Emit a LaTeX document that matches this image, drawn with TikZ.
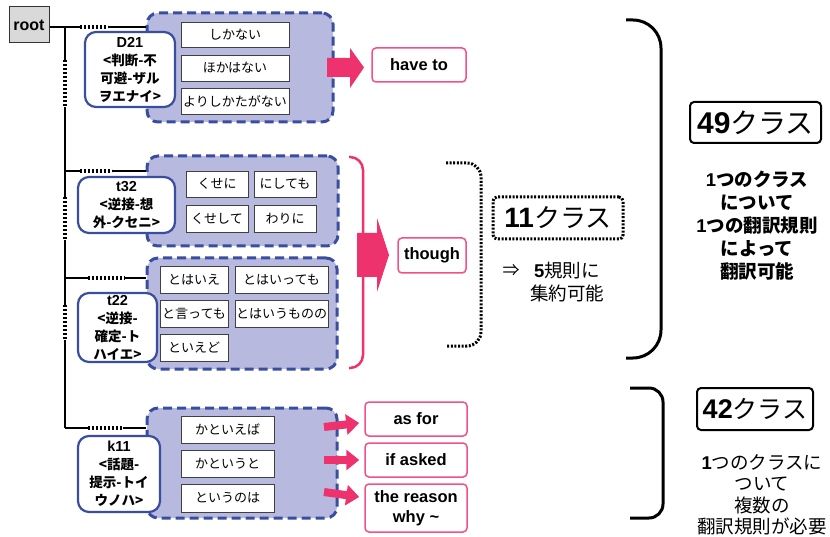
\documentclass[tikz,border=0pt]{standalone}
\usepackage{fontspec}
\setmainfont{Noto Sans CJK JP}
\newfontfamily\lat{Liberation Sans}
\usetikzlibrary{arrows.meta}
\definecolor{grpfill}{RGB}{183,186,222}
\definecolor{grpblue}{RGB}{58,78,160}
\definecolor{pinkc}{RGB}{238,50,110}
\definecolor{rootgray}{RGB}{217,217,217}
\begin{document}
\begin{tikzpicture}[x=1pt,y=-1pt,
  area/.style n args={4}{minimum width={(#3-#1)*1pt}, minimum height={(#4-#2)*1pt}, at={({(#1+#3)/2},{(#2+#4)/2})}},
  rootbox/.style={draw=black!80, fill=rootgray, line width=1pt, inner sep=0pt, font=\lat\bfseries\fontsize{16}{18}\selectfont},
  grp/.style={draw=grpblue, fill=grpfill, line width=3pt, dash pattern=on 9pt off 5pt, rounded corners=11pt, inner sep=0pt},
  lbl/.style={draw=grpblue, fill=white, line width=2.2pt, rounded corners=11pt, inner sep=0pt, align=center, font=\fontsize{13.5}{18}\selectfont\bfseries},
  item/.style={draw=black!75, fill=white, line width=0.8pt, inner sep=0pt, font=\fontsize{13}{15}\selectfont},
  pbox/.style={draw=pinkc!85, fill=white, line width=1.5pt, rounded corners=4pt, inner sep=0pt, align=center, font=\lat\bfseries\fontsize{16.5}{20}\selectfont},
  solidl/.style={line width=2.5pt, black},
  dotl/.style={line width=3.2pt, black, dash pattern=on 2pt off 2pt},
  sarr/.style={draw=pinkc, line width=8pt, -{Triangle[length=13pt,width=20pt]}},
  bigarr/.style={fill=pinkc, draw=none},
  bracket/.style={line width=3pt, black},
  dotbr/.style={line width=3pt, black, dash pattern=on 2pt off 1.6pt},
  clsbox/.style={draw=black, line width=2pt, rounded corners=4pt, inner sep=0pt},
  note/.style={align=center, inner sep=0pt}
]
\useasboundingbox (0,0) rectangle (830,537);

% trunk coordinates
\coordinate (b1) at (65,27);
\coordinate (b2) at (65,171);
\coordinate (b3) at (65,278);
\coordinate (b4) at (65,428);

% root
\node[rootbox, area={9}{7}{49}{43}] (root) {root};

% groups
\node[grp, area={147}{13}{333}{122}] (g1) {};
\node[grp, area={147}{156}{338}{246}] (g2) {};
\node[grp, area={147}{258}{337}{369}] (g3) {};
\node[grp, area={147}{408}{337}{518}] (g4) {};

% tree lines
\draw[solidl] (root.east |- b1) -- (80,27);
\draw[dotl] (80,27) -- (108,27);
\draw[solidl] (108,27) -- (g1.west |- b1);
\draw[solidl] (b1) -- (65,60);
\draw[dotl] (65,60) -- (65,107);
\draw[solidl] (65,107) -- (65,197);
\draw[dotl] (65,197) -- (65,240);
\draw[solidl] (65,240) -- (65,305);
\draw[dotl] (65,305) -- (65,340);
\draw[solidl] (65,340) -- (b4);
\draw[solidl] (b2) -- (80,171);
\draw[dotl] (80,171) -- (112,171);
\draw[solidl] (112,171) -- (g2.west |- b2);
\draw[solidl] (b3) -- (88,278);
\draw[dotl] (88,278) -- (125,278);
\draw[solidl] (125,278) -- (g3.west |- b3);
\draw[solidl] (b4) -- (88,428);
\draw[dotl] (88,428) -- (123,428);
\draw[solidl] (123,428) -- (g4.west |- b4);

% items group 1
\node[item, area={181}{22}{289}{47}] (i11) {しかない};
\node[item, area={181}{55}{289}{81}] (i12) {ほかはない};
\node[item, area={181}{88}{289}{114}] (i13) {よりしかたがない};
% items group 2
\node[item, area={186}{171}{248}{197}] (i21) {くせに};
\node[item, area={254}{171}{316}{197}] (i22) {にしても};
\node[item, area={186}{205}{248}{232}] (i23) {くせして};
\node[item, area={254}{205}{316}{232}] (i24) {わりに};
% items group 3
\node[item, area={160}{266}{228}{293}] (i31) {とはいえ};
\node[item, area={235}{266}{328}{293}] (i32) {とはいっても};
\node[item, area={160}{300}{228}{327}] (i33) {と言っても};
\node[item, area={235}{300}{328}{327}] (i34) {とはいうものの};
\node[item, area={160}{334}{228}{361}] (i35) {といえど};
% items group 4
\node[item, area={181}{416}{274}{443}] (i41) {かといえば};
\node[item, area={181}{450}{274}{477}] (i42) {かというと};
\node[item, area={181}{484}{274}{512}] (i43) {というのは};

% labels
\node[lbl, area={85}{32}{175}{107}] (l1) {{\lat\fontsize{14.5}{18}\selectfont D21}\\<判断-不\\可避-ザル\\ヲエナイ>};
\node[lbl, area={78}{177}{175}{233}] (l2) {{\lat\fontsize{14.5}{18}\selectfont t32}\\<逆接-想\\外-クセニ>};
\node[lbl, area={78}{293}{157}{362}] (l3) {{\lat\fontsize{14.5}{18}\selectfont t22}\\<逆接-\\確定-ト\\ハイエ>};
\node[lbl, area={78}{436}{160}{512}] (l4) {{\lat\fontsize{14.5}{18}\selectfont k11}\\<話題-\\提示-トイ\\ウノハ>};

% pink target boxes
\node[pbox, area={372}{48}{466}{82}] (haveto) {have to};
\node[pbox, area={398}{238}{466}{273}] (though) {though};
\node[pbox, area={365}{402}{467}{436}] (asfor) {as for};
\node[pbox, area={365}{443}{467}{477}] (ifasked) {if asked};
\node[pbox, area={365}{484}{467}{532}] (reason) {the reason\\why \textasciitilde};

% big arrows
\fill[bigarr] (327,58) -- (350,58) -- (350,48) -- (364,67.5) -- (350,88) -- (350,77) -- (327,77) -- cycle;
\draw[pinkc, line width=2.5pt, rounded corners=13pt] (349,157) -- (363,157) -- (363,368) -- (349,368);
\fill[bigarr] (357,233) -- (377,233) -- (377,218) -- (389,255) -- (377,292) -- (377,277) -- (357,277) -- cycle;

% small arrows
\coordinate (s1) at (324,427);
\coordinate (s2) at (324,460);
\coordinate (s3) at (324,492);
\draw[sarr] (s1) -- ([xshift=-5pt,yshift=-4pt]asfor.west);
\draw[sarr] (s2) -- ([xshift=-5pt]ifasked.west);
\draw[sarr] (s3) -- ([xshift=-5pt,yshift=11pt]reason.west);

% dotted bracket and 11 classes
\draw[dotbr, rounded corners=14pt] (446,163) -- (481,163) -- (481,346) -- (446,346);
\node[clsbox, dash pattern=on 2pt off 1.6pt, line width=3pt, area={493}{197}{623}{239}] (c11) {\fontsize{26}{28}\selectfont{\lat\bfseries\fontsize{28}{28}\selectfont 11}クラス};
\node[note, font=\fontsize{17}{20}\selectfont] (imp) at (511,270) {⇒};
\node[note, font=\fontsize{18.5}{23}\selectfont] (five) at (567,282) {{\lat\bfseries 5}規則に\\集約可能};

% right brackets
\draw[bracket, rounded corners=28pt] (626,20) -- (661,20) -- (661,358) -- (626,358);
\draw[bracket, rounded corners=14pt] (630,388) -- (663,388) -- (663,518) -- (630,518);

\node[clsbox, area={690}{102}{821}{143}] (c49) {\fontsize{28}{30}\selectfont{\lat\bfseries\fontsize{30}{30}\selectfont 49}クラス};
\node[note, font=\fontsize{18.5}{23}\selectfont\bfseries] (t49) at (757,226) {{\lat 1}つのクラス\\について\\{\lat 1}つの翻訳規則\\によって\\翻訳可能};

\node[clsbox, area={697}{388}{813}{430}] (c42) {\fontsize{25}{28}\selectfont{\lat\bfseries\fontsize{27}{28}\selectfont 42}クラス};
\node[note, font=\fontsize{18.5}{21.5}\selectfont] (t42) at (762,495) {{\lat\bfseries 1}つのクラスに\\ついて\\複数の\\翻訳規則が必要};
\end{tikzpicture}
\end{document}
